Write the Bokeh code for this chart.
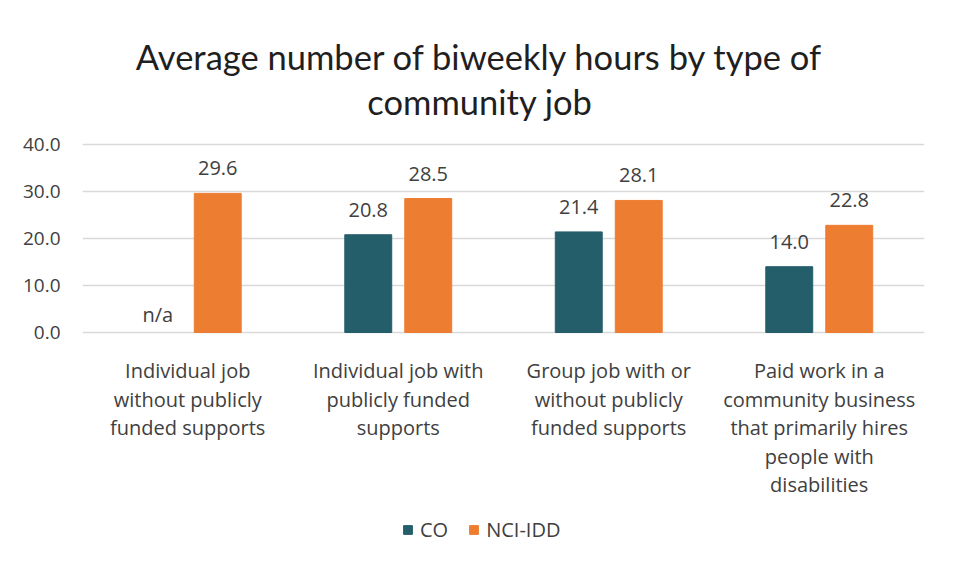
from bokeh.plotting import figure
from bokeh.models import ColumnDataSource, Label, LabelSet, Legend, LegendItem, Range1d, FixedTicker, PrintfTickFormatter
from bokeh.core.properties import value
from bokeh.embed import file_html
from bokeh.resources import INLINE

categories = [
    ["Individual job", "without publicly", "funded supports"],
    ["Individual job with", "publicly funded", "supports"],
    ["Group job with or", "without publicly", "funded supports"],
    ["Paid work in a", "community business", "that primarily hires", "people with", "disabilities"],
]
co_values = [None, 20.8, 21.4, 14.0]
nci_values = [29.6, 28.5, 28.1, 22.8]
series_names = ["CO", "NCI-IDD"]
y_ticks = [0, 10, 20, 30, 40]
title_lines = ["Average number of biweekly hours by type of", "community job"]

CO_COLOR = "#255E6B"
NCI_COLOR = "#ED7D31"
TEXT = "#404040"
FONT = "Open Sans"

W, H = 941, 563
FRAME_LEFT, FRAME_RIGHT = 82, 924
PX = 4.7
ZERO_Y = 332
def ydata(py):
    return (ZERO_Y - py) / PX
def xdata(px):
    return (px - FRAME_LEFT) / ((FRAME_RIGHT - FRAME_LEFT) / 4)

p = figure(width=W, height=H, output_backend="svg", toolbar_location=None,
           x_range=Range1d(0, 4), y_range=Range1d(ydata(H), ydata(0)),
           min_border_left=FRAME_LEFT, min_border_right=W - FRAME_RIGHT,
           min_border_top=0, min_border_bottom=0)
p.title.visible = False
p.outline_line_color = None
p.xgrid.grid_line_color = None
p.ygrid.grid_line_color = "#d9d9d9"
p.ygrid.grid_line_width = 1.5
p.xaxis.visible = False

p.yaxis.ticker = FixedTicker(ticks=y_ticks)
p.yaxis.formatter = PrintfTickFormatter(format="%.1f")
p.yaxis.axis_line_color = None
p.yaxis.major_tick_line_color = None
p.yaxis.minor_tick_line_color = None
p.yaxis.major_tick_out = 0
p.yaxis.major_label_standoff = 22
p.yaxis.major_label_text_font = FONT
p.yaxis.major_label_text_font_size = "19px"
p.yaxis.major_label_text_color = TEXT

offset = 0.1425
bw = 0.223
co_x = [i + 0.5 - offset for i, v in enumerate(co_values) if v is not None]
co_y = [v for v in co_values if v is not None]
nci_x = [i + 0.5 + offset for i in range(len(nci_values))]

src_co = ColumnDataSource(dict(x=co_x, top=co_y, lab=[f"{v:.1f}" for v in co_y]))
src_nci = ColumnDataSource(dict(x=nci_x, top=nci_values, lab=[f"{v:.1f}" for v in nci_values]))

r_co = p.vbar(x="x", top="top", width=bw, source=src_co, fill_color=CO_COLOR, line_color=CO_COLOR)
r_nci = p.vbar(x="x", top="top", width=bw, source=src_nci, fill_color=NCI_COLOR, line_color=NCI_COLOR)

for src in (src_co, src_nci):
    p.add_layout(LabelSet(x="x", y="top", text="lab", source=src, y_offset=18,
                          text_align="center", text_baseline="alphabetic",
                          text_font=value(FONT), text_font_size=value("20px"), text_color=value(TEXT)))

for i, v in enumerate(co_values):
    if v is None:
        p.add_layout(Label(x=i + 0.5 - offset, y=0, y_offset=18, text="n/a",
                           text_align="center", text_baseline="alphabetic",
                           text_font=FONT, text_font_size="20px", text_color=TEXT))

# category labels below the axis
for i, lines in enumerate(categories):
    for j, line in enumerate(lines):
        p.add_layout(Label(x=i + 0.5, y=ydata(370 + 28.5 * j), text=line,
                           text_align="center", text_baseline="alphabetic",
                           text_font=FONT, text_font_size="20px", text_color=TEXT))

# title
for j, line in enumerate(title_lines):
    p.add_layout(Label(x=xdata(479.5), y=ydata(56 + 45 * j), text=line,
                       text_align="center", text_baseline="alphabetic",
                       text_font="Lato", text_font_size="34.5px", text_color="#1f1f1f"))

legend = Legend(items=[LegendItem(label=series_names[0], renderers=[r_co]),
                       LegendItem(label=series_names[1], renderers=[r_nci])],
                orientation="horizontal", location=(320, H - 543),
                glyph_width=11, glyph_height=11, label_standoff=7, spacing=20,
                padding=0, margin=0, border_line_color=None, background_fill_alpha=0,
                label_text_font=FONT, label_text_font_size="20px", label_text_color=TEXT,
                label_height=22)
p.add_layout(legend, "center")

open("out.html", "w").write(file_html(p, INLINE))
